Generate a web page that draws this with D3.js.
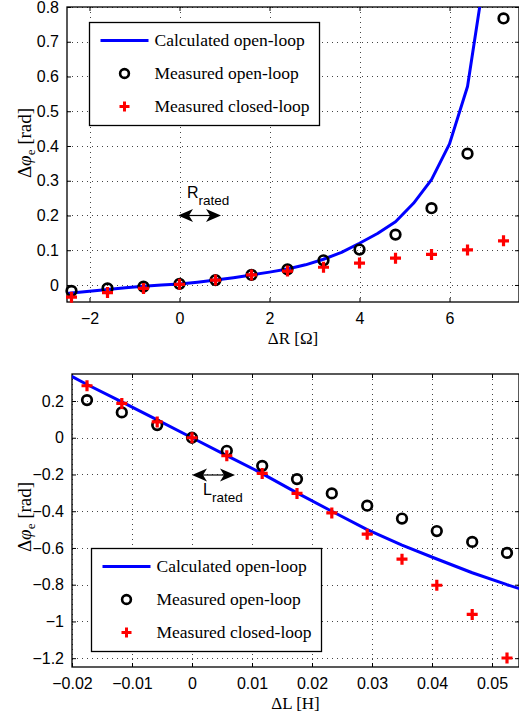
<!DOCTYPE html>
<html>
<head>
<meta charset="utf-8">
<script src="https://cdn.jsdelivr.net/npm/d3@7"></script>
<style>
  body { margin: 0; background: #fff; }
  svg { display: block; }
  .tick text { font-family: "Liberation Sans", Arial, sans-serif; font-size: 16px; }
</style>
</head>
<body>
<svg id="fig" width="519" height="715"></svg>
<script>
// ---- top panel: resistance deviation ----
var dR = [-2.4, -1.6, -0.8, 0, 0.8, 1.6, 2.4, 3.2, 4.0, 4.8, 5.6, 6.4, 7.2];
var rOpenMeas = [-0.017, -0.010, -0.005, 0.003, 0.014, 0.029, 0.045, 0.071, 0.102, 0.145, 0.221, 0.378, 0.767];
var rClosedMeas = [-0.035, -0.022, -0.010, 0.002, 0.014, 0.029, 0.040, 0.051, 0.063, 0.077, 0.088, 0.101, 0.127];
var dRCalc = [-2.8, -2.4, -2.0, -1.6, -1.2, -0.8, -0.4, 0, 0.4, 0.8, 1.2, 1.6, 2.0, 2.4, 2.8, 3.2, 3.6, 4.0, 4.4, 4.8, 5.2, 5.6, 6.0, 6.4, 6.8];
var rOpenCalc = [-0.028, -0.023, -0.018, -0.013, -0.008, -0.004, 0.000, 0.003, 0.008, 0.014, 0.021, 0.029, 0.037, 0.046, 0.058, 0.074, 0.094, 0.120, 0.148, 0.182, 0.235, 0.303, 0.406, 0.571, 0.910];
var rYTicks = [0, 0.1, 0.2, 0.3, 0.4, 0.5, 0.6, 0.7, 0.8];
var rXTicks = [-2, 0, 2, 4, 6];

// ---- bottom panel: inductance deviation ----
var dL = [-0.0175, -0.0117, -0.0058, 0, 0.0058, 0.0117, 0.0175, 0.0233, 0.0292, 0.035, 0.0408, 0.0467, 0.0525];
var lOpenMeas = [0.205, 0.138, 0.069, 0, -0.071, -0.153, -0.225, -0.303, -0.370, -0.440, -0.508, -0.567, -0.627];
var lClosedMeas = [0.283, 0.187, 0.086, 0, -0.098, -0.194, -0.303, -0.409, -0.525, -0.661, -0.803, -0.962, -1.199];
var dLCalc = [-0.0233, -0.0175, -0.0117, -0.0058, 0, 0.0058, 0.0117, 0.0175, 0.0233, 0.0292, 0.035, 0.0408, 0.0467, 0.0525, 0.0583];
var lOpenCalc = [0.39, 0.29, 0.195, 0.097, 0, -0.097, -0.195, -0.30, -0.40, -0.50, -0.585, -0.66, -0.735, -0.80, -0.86];
var lYTicks = [-1.2, -1, -0.8, -0.6, -0.4, -0.2, 0, 0.2];
var lXTicks = [-0.02, -0.01, 0, 0.01, 0.02, 0.03, 0.04, 0.05];

var legendNames = ["Calculated open-loop", "Measured open-loop", "Measured closed-loop"];

var svg = d3.select('#fig');
var serif = '"Liberation Serif", "Times New Roman", serif';
var sans = '"Liberation Sans", Arial, sans-serif';

function fmt(v) {
  var s = d3.format('~g')(+v.toFixed(4));
  return s.replace('-', '\u2212');
}

function drawPanel(p) {
  var x = d3.scaleLinear().domain(p.xDomain).range([p.left, p.right]);
  var y = d3.scaleLinear().domain(p.yDomain).range([p.bottom, p.top]);
  var g = svg.append('g');

  // clip
  var clipId = 'clip' + p.id;
  svg.append('clipPath').attr('id', clipId)
    .append('rect')
    .attr('x', p.left).attr('y', p.top)
    .attr('width', p.right - p.left).attr('height', p.bottom - p.top);

  // dotted grid
  g.append('g').selectAll('line').data(p.xTicks).enter().append('line')
    .attr('x1', function(d) { return Math.round(x(d)) + 0.5; })
    .attr('x2', function(d) { return Math.round(x(d)) + 0.5; })
    .attr('y1', p.top).attr('y2', p.bottom)
    .style('stroke', '#444').style('stroke-width', 1)
    .style('stroke-dasharray', '1,4');
  g.append('g').selectAll('line').data(p.yTicks).enter().append('line')
    .attr('y1', function(d) { return Math.round(y(d)) + 0.5; })
    .attr('y2', function(d) { return Math.round(y(d)) + 0.5; })
    .attr('x1', p.left).attr('x2', p.right)
    .style('stroke', '#444').style('stroke-width', 1)
    .style('stroke-dasharray', '1,4');

  // axes
  var xAx = g.append('g').attr('transform', 'translate(0,' + p.bottom + ')')
    .call(d3.axisBottom(x).tickValues(p.xTicks).tickSize(-4).tickPadding(8).tickFormat(fmt));
  var xAxTop = g.append('g').attr('transform', 'translate(0,' + p.top + ')')
    .call(d3.axisTop(x).tickValues(p.xTicks).tickSize(-4).tickFormat(''));
  var yAx = g.append('g').attr('transform', 'translate(' + p.left + ',0)')
    .call(d3.axisLeft(y).tickValues(p.yTicks).tickSize(-4).tickPadding(8).tickFormat(fmt));
  var yAxR = g.append('g').attr('transform', 'translate(' + p.right + ',0)')
    .call(d3.axisRight(y).tickValues(p.yTicks).tickSize(-4).tickFormat(''));
  [xAx, xAxTop, yAx, yAxR].forEach(function(a) {
    a.select('.domain').remove();
    a.selectAll('.tick line').style('stroke', '#000');
    a.selectAll('.tick text').style('fill', '#000');
  });
  xAx.selectAll('.tick text').attr('dy', '0.9em');
  g.append('rect')
    .attr('x', p.left).attr('y', p.top)
    .attr('width', p.right - p.left).attr('height', p.bottom - p.top)
    .style('fill', 'none').style('stroke', '#000').style('stroke-width', 1.3);

  // calculated line
  var line = d3.line().x(function(d) { return x(d[0]); }).y(function(d) { return y(d[1]); });
  var plot = g.append('g').attr('clip-path', 'url(#' + clipId + ')');
  plot.append('path')
    .datum(d3.zip(p.calcX, p.calcY))
    .attr('d', line)
    .style('fill', 'none').style('stroke', '#0000ff').style('stroke-width', 3)
    .style('stroke-linejoin', 'round');

  // open-loop circles
  g.append('g').selectAll('circle').data(d3.zip(p.measX, p.open)).enter().append('circle')
    .attr('cx', function(d) { return x(d[0]); })
    .attr('cy', function(d) { return y(d[1]); })
    .attr('r', 4.8)
    .style('fill', 'none').style('stroke', '#000').style('stroke-width', 2.7);

  // closed-loop plus
  g.append('g').selectAll('path').data(d3.zip(p.measX, p.closed)).enter().append('path')
    .attr('d', function(d) {
      var cx = x(d[0]), cy = y(d[1]), s = 5.5;
      return 'M' + (cx - s) + ',' + cy + 'H' + (cx + s) + 'M' + cx + ',' + (cy - s) + 'V' + (cy + s);
    })
    .style('stroke', '#ff0000').style('stroke-width', 3.2).style('fill', 'none');

  // axis labels
  g.append('text')
    .attr('x', (p.left + p.right) / 2).attr('y', p.bottom + 42)
    .attr('text-anchor', 'middle')
    .style('font-family', serif).style('font-size', '17px')
    .text(p.xLabel);
  var yl = g.append('text')
    .attr('transform', 'translate(' + 31 + ',' + p.yLabelY + ')rotate(-90)')
    .attr('text-anchor', 'middle')
    .style('font-family', serif).style('font-size', '19px');
  yl.append('tspan').text('\u0394');
  yl.append('tspan').style('font-style', 'italic').text('\u03c6');
  yl.append('tspan').attr('dy', 4).style('font-size', '13px').text('e');
  yl.append('tspan').attr('dy', -4).text(' [rad]');

  // legend
  var lg = g.append('g');
  lg.append('rect')
    .attr('x', p.legX).attr('y', p.legY)
    .attr('width', 230).attr('height', 103)
    .style('fill', '#fff').style('stroke', '#000').style('stroke-width', 1.3);
  var rows = lg.selectAll('g.row').data(legendNames).enter().append('g')
    .attr('transform', function(d, i) {
      return 'translate(' + p.legX + ',' + (p.legY + 18 + i * 33) + ')';
    });
  rows.append('text')
    .attr('x', 65).attr('y', 5.5)
    .style('font-family', serif).style('font-size', '17.5px')
    .text(function(d) { return d; });
  rows.filter(function(d, i) { return i === 0; }).append('line')
    .attr('x1', 11).attr('x2', 59).attr('y1', 0).attr('y2', 0)
    .style('stroke', '#0000ff').style('stroke-width', 3);
  rows.filter(function(d, i) { return i === 1; }).append('circle')
    .attr('cx', 35).attr('cy', 0).attr('r', 4.4)
    .style('fill', 'none').style('stroke', '#000').style('stroke-width', 2.6);
  rows.filter(function(d, i) { return i === 2; }).append('path')
    .attr('d', 'M30,0H40M35,-5V5')
    .style('stroke', '#ff0000').style('stroke-width', 3);

  // rated annotation (double arrow + label)
  var ax = p.arrowX, ay = p.arrowY, aw = 43;
  var ag = g.append('g');
  ag.append('line').attr('x1', ax + 8).attr('x2', ax + aw - 8).attr('y1', ay).attr('y2', ay)
    .style('stroke', '#000').style('stroke-width', 1.2);
  ag.append('path')
    .attr('d', 'M' + ax + ',' + ay + 'l15,-6.5l-4,6.5l4,6.5z' +
               'M' + (ax + aw) + ',' + ay + 'l-15,-6.5l4,6.5l-4,6.5z')
    .style('fill', '#000');
  var at = g.append('text')
    .attr('x', p.ratedX).attr('y', ay + p.ratedDy)
    .style('font-family', sans).style('font-size', '16px');
  at.append('tspan').text(p.ratedSym);
  at.append('tspan').attr('dy', 7).style('font-size', '13.5px').text('rated');
}

drawPanel({
  id: 'R',
  left: 67, right: 519, top: 7, bottom: 302,
  xDomain: [-2.5, 7.544], yDomain: [-0.049, 0.8],
  xTicks: rXTicks, yTicks: rYTicks,
  measX: dR, open: rOpenMeas, closed: rClosedMeas,
  calcX: dRCalc, calcY: rOpenCalc,
  xLabel: '\u0394R [\u03a9]', yLabelY: 143,
  legX: 89.5, legY: 22.5,
  arrowX: 178, arrowY: 215.5, ratedX: 187, ratedDy: -18, ratedSym: 'R'
});

drawPanel({
  id: 'L',
  left: 72, right: 519, top: 374, bottom: 667,
  xDomain: [-0.02, 0.0545], yDomain: [-1.248, 0.347],
  xTicks: lXTicks, yTicks: lYTicks,
  measX: dL, open: lOpenMeas, closed: lClosedMeas,
  calcX: dLCalc, calcY: lOpenCalc,
  xLabel: '\u0394L [H]', yLabelY: 517,
  legX: 91.5, legY: 548.5,
  arrowX: 192, arrowY: 475, ratedX: 203, ratedDy: 20, ratedSym: 'L'
});
</script>
</body>
</html>
